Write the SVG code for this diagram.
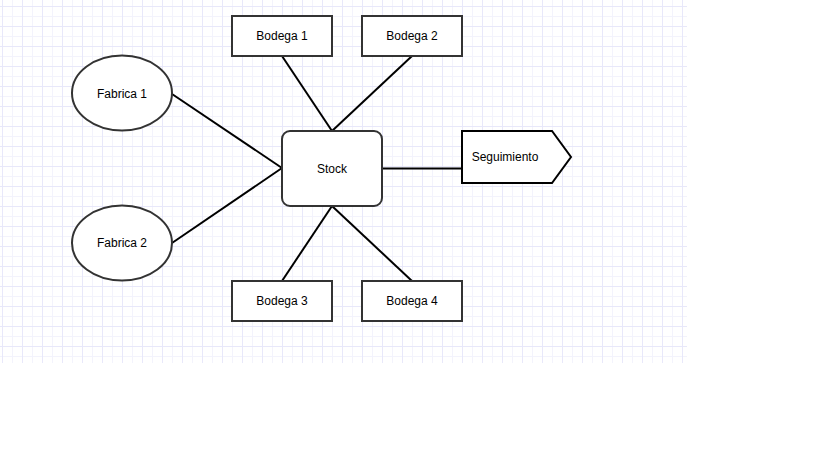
<svg xmlns="http://www.w3.org/2000/svg" width="819" height="460" viewBox="0 0 819 460">
<defs>
<pattern id="grid" x="2" y="6" width="20" height="20" patternUnits="userSpaceOnUse">
<path d="M10.5 0V20M0 10.5H20" stroke="#f3f3fc" stroke-width="1" fill="none"/>
<path d="M0.5 0V20M0 0.5H20" stroke="#e8e8fa" stroke-width="1" fill="none"/>
</pattern>
</defs>
<style>
.box{fill:#fff;stroke:#333;stroke-width:2}
.ell{fill:#fff;stroke:#333;stroke-width:2}
.lbl{font-family:"Liberation Sans",Arial,sans-serif;font-size:12px;fill:#000;text-anchor:middle;dominant-baseline:central}
.edge{stroke:#000;stroke-width:2;fill:none}
</style>
<rect x="0" y="0" width="819" height="460" fill="#fff"/>
<rect x="0" y="0" width="687" height="363" fill="url(#grid)"/>
<g id="connectors">
<line class="edge" x1="172" y1="94" x2="282" y2="168"/>
<line class="edge" x1="172" y1="243" x2="282" y2="168"/>
<line class="edge" x1="282" y1="56" x2="332" y2="131"/>
<line class="edge" x1="412" y1="56" x2="332" y2="131"/>
<line class="edge" x1="382" y1="168.5" x2="462" y2="168.5"/>
<line class="edge" x1="332" y1="206" x2="282" y2="281"/>
<line class="edge" x1="332" y1="206" x2="412" y2="281"/>
</g>
<g id="fabrica1"><ellipse class="ell" cx="122" cy="93" rx="50" ry="37.5"/><text class="lbl" x="122" y="94">Fabrica 1</text></g>
<g id="fabrica2"><ellipse class="ell" cx="122" cy="243" rx="50" ry="37.5"/><text class="lbl" x="122" y="243">Fabrica 2</text></g>
<g id="bodega1"><rect class="box" x="232" y="16" width="100" height="40"/><text class="lbl" x="282" y="36">Bodega 1</text></g>
<g id="bodega2"><rect class="box" x="362" y="16" width="100" height="40"/><text class="lbl" x="412" y="36">Bodega 2</text></g>
<g id="stock"><rect class="box" x="282" y="131" width="100" height="75" rx="8"/><text class="lbl" x="332" y="169">Stock</text></g>
<g id="seguimiento"><polygon points="462,131 552,131 571,157 552,183 462,183" fill="#fff" stroke="#000" stroke-width="2"/><text class="lbl" x="505" y="157">Seguimiento</text></g>
<g id="bodega3"><rect class="box" x="232" y="281" width="100" height="40"/><text class="lbl" x="282" y="301">Bodega 3</text></g>
<g id="bodega4"><rect class="box" x="362" y="281" width="100" height="40"/><text class="lbl" x="412" y="301">Bodega 4</text></g>
</svg>
